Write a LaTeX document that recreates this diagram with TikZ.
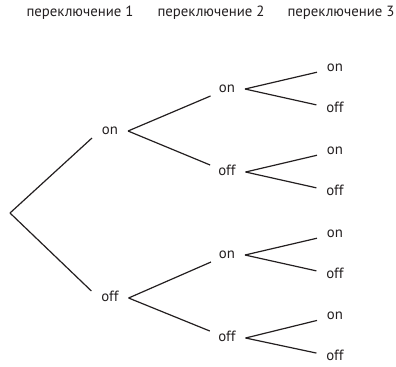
\documentclass[tikz,border=0pt]{standalone}
\usepackage{fontspec}
\setmainfont{PT Sans}
\usetikzlibrary{positioning}
\definecolor{ink}{HTML}{231F20}

\begin{document}
\begin{tikzpicture}[x=0.5pt,y=-0.5pt,font=\fontsize{7.4}{8.5}\selectfont,every node/.append style={align=center,text=ink},lbl/.style={inner xsep=4.8pt,inner ysep=1.5pt,text height=3.6pt,text depth=0pt},hd/.style={inner sep=0pt}]
        \useasboundingbox (0,0) rectangle (396,366);
        \node [hd] (h1) at (80,13)  {переключение 1};
        \node [hd] (h2) at (211,13) {переключение 2};
        \node [hd] (h3) at (341,13) {переключение 3};
        \coordinate (r) at (10,213);
        \node [lbl] (a1) at (110,131) {on};
        \node [lbl] (a2) at (110,298) {off};
        \node [lbl] (b1) at (227,89)  {on};
        \node [lbl] (b2) at (227,172) {off};
        \node [lbl] (b3) at (227,255) {on};
        \node [lbl] (b4) at (227,338) {off};
        \node [lbl] (c1) at (335,68)  {on};
        \node [lbl] (c2) at (335,109) {off};
        \node [lbl] (c3) at (335,151) {on};
        \node [lbl] (c4) at (335,192) {off};
        \node [lbl] (c5) at (335,234) {on};
        \node [lbl] (c6) at (335,275) {off};
        \node [lbl] (c7) at (335,316) {on};
        \node [lbl] (c8) at (335,357) {off};
        \path[draw=ink, line width=0.6pt] (r) edge (a1.south west)
        (r) edge (a2.north west)
        (a1.east) edge (b1) (a1.east) edge (b2)
        (a2.east) edge (b3) (a2.east) edge (b4)
        (b1.east) edge (c1) (b1.east) edge (c2)
        (b2.east) edge (c3) (b2.east) edge (c4)
        (b3.east) edge (c5) (b3.east) edge (c6)
        (b4.east) edge (c7) (b4.east) edge (c8);
    \end{tikzpicture}
\end{document}
